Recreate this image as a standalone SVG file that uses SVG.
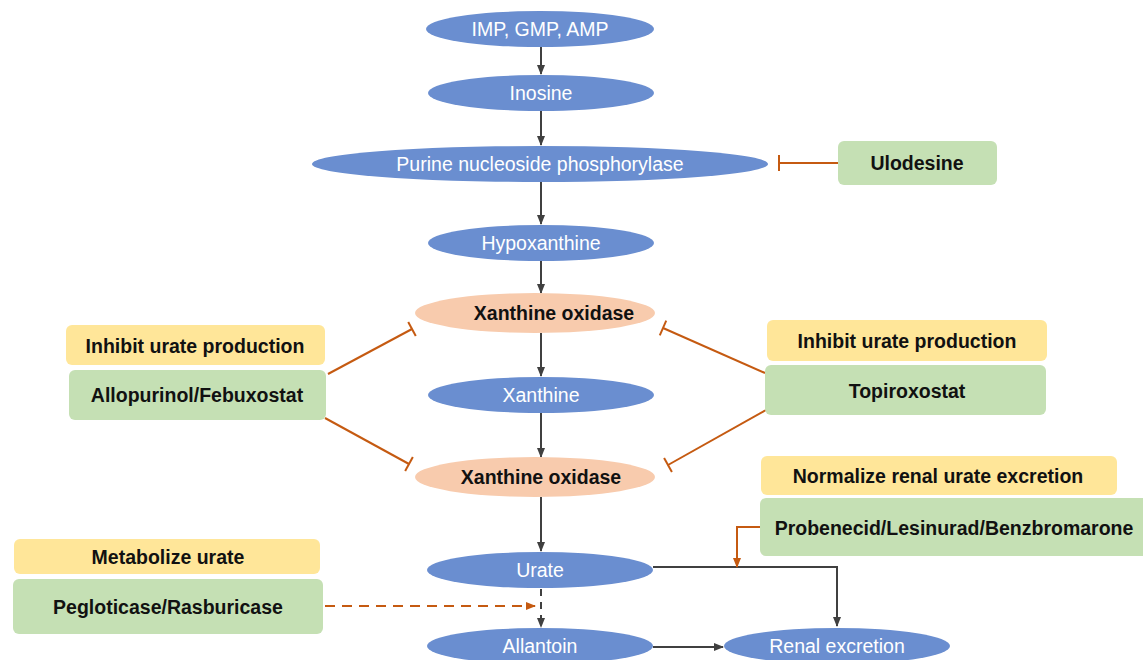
<svg xmlns="http://www.w3.org/2000/svg" width="1143" height="660" viewBox="0 0 1143 660">
<defs>
<style>
.bl{fill:#6A8ED0}
.pe{fill:#F8CBAD}
.ye{fill:#FFE699}
.gr{fill:#C5E0B4}
.wt{font-family:"Liberation Sans",Arial,sans-serif;font-size:19.5px;fill:#FFFFFF;text-anchor:middle;dominant-baseline:central}
.bt{font-family:"Liberation Sans",Arial,sans-serif;font-size:19.5px;font-weight:bold;fill:#111111;text-anchor:middle;dominant-baseline:central}
.ga{stroke:#404040;stroke-width:2;fill:none}
.or{stroke:#C55A11;stroke-width:2;fill:none}
</style>
<marker id="ag" viewBox="0 0 10 10" refX="9" refY="5" markerWidth="10" markerHeight="10" markerUnits="userSpaceOnUse" orient="auto"><path d="M0,1 L10,5 L0,9 Z" fill="#404040"/></marker>
<marker id="ao" viewBox="0 0 10 10" refX="9" refY="5" markerWidth="10" markerHeight="10" markerUnits="userSpaceOnUse" orient="auto"><path d="M0,1 L10,5 L0,9 Z" fill="#C55A11"/></marker>
<marker id="tb" viewBox="-2 -9 4 18" refX="0" refY="0" markerWidth="4" markerHeight="18" markerUnits="userSpaceOnUse" orient="auto"><path d="M0,-8 L0,8" stroke="#C55A11" stroke-width="2"/></marker>
</defs>

<g id="connectors">
<line class="ga" x1="541" y1="47" x2="541" y2="74" marker-end="url(#ag)"/>
<line class="ga" x1="541" y1="111" x2="541" y2="145" marker-end="url(#ag)"/>
<line class="ga" x1="541" y1="182" x2="541" y2="224" marker-end="url(#ag)"/>
<line class="ga" x1="541" y1="261" x2="541" y2="293" marker-end="url(#ag)"/>
<line class="ga" x1="541" y1="333" x2="541" y2="376" marker-end="url(#ag)"/>
<line class="ga" x1="541" y1="413" x2="541" y2="457" marker-end="url(#ag)"/>
<line class="ga" x1="541" y1="497" x2="541" y2="551" marker-end="url(#ag)"/>
<line class="ga" x1="541" y1="589" x2="541" y2="627" stroke-dasharray="7,6" marker-end="url(#ag)"/>
<line class="ga" x1="653" y1="647" x2="723" y2="647" marker-end="url(#ag)"/>
<polyline class="ga" points="653,567 837,567 837,626" marker-end="url(#ag)"/>
<line class="or" x1="838" y1="163" x2="779" y2="163" marker-end="url(#tb)"/>
<line class="or" x1="328" y1="374" x2="412" y2="329" marker-end="url(#tb)"/>
<line class="or" x1="325" y1="418" x2="409" y2="464" marker-end="url(#tb)"/>
<line class="or" x1="765" y1="373" x2="663" y2="328" marker-end="url(#tb)"/>
<line class="or" x1="766" y1="410" x2="668" y2="465" marker-end="url(#tb)"/>
<polyline class="or" points="760,527 737,527 737,567" marker-end="url(#ao)"/>
<line class="or" x1="325" y1="606" x2="535" y2="606" stroke-dasharray="10,7" marker-end="url(#ao)"/>
</g>

<g id="n-imp"><ellipse class="bl" cx="540" cy="29" rx="114" ry="18"/><text class="wt" x="540" y="29">IMP, GMP, AMP</text></g>
<g id="n-inosine"><ellipse class="bl" cx="541" cy="93" rx="113" ry="18"/><text class="wt" x="541" y="93">Inosine</text></g>
<g id="n-pnp"><ellipse class="bl" cx="540" cy="164" rx="228" ry="18"/><text class="wt" x="540" y="164">Purine nucleoside phosphorylase</text></g>
<g id="n-hypox"><ellipse class="bl" cx="541" cy="243" rx="113" ry="18"/><text class="wt" x="541" y="243">Hypoxanthine</text></g>
<g id="n-xo1"><ellipse class="pe" cx="535" cy="313" rx="120" ry="20"/><text class="bt" x="554" y="313">Xanthine oxidase</text></g>
<g id="n-xanthine"><ellipse class="bl" cx="541" cy="395" rx="113" ry="18"/><text class="wt" x="541" y="395">Xanthine</text></g>
<g id="n-xo2"><ellipse class="pe" cx="535" cy="477" rx="120" ry="20"/><text class="bt" x="541" y="477">Xanthine oxidase</text></g>
<g id="n-urate"><ellipse class="bl" cx="540" cy="570" rx="113" ry="18"/><text class="wt" x="540" y="570">Urate</text></g>
<g id="n-allantoin"><ellipse class="bl" cx="540" cy="646" rx="113" ry="18"/><text class="wt" x="540" y="646">Allantoin</text></g>
<g id="n-renal"><ellipse class="bl" cx="837" cy="646" rx="113" ry="18"/><text class="wt" x="837" y="646">Renal excretion</text></g>

<g id="n-ulodesine"><rect class="gr" x="838" y="141" width="159" height="44" rx="6"/><text class="bt" x="917" y="163">Ulodesine</text></g>
<g id="n-left-label"><rect class="ye" x="66" y="325" width="259" height="40" rx="6"/><text class="bt" x="195" y="346">Inhibit urate production</text></g>
<g id="n-allopurinol"><rect class="gr" x="69" y="370" width="257" height="50" rx="6"/><text class="bt" x="197" y="395">Allopurinol/Febuxostat</text></g>
<g id="n-right-label"><rect class="ye" x="767" y="320" width="280" height="41" rx="6"/><text class="bt" x="907" y="341">Inhibit urate production</text></g>
<g id="n-topiroxostat"><rect class="gr" x="765" y="365" width="281" height="50" rx="6"/><text class="bt" x="907" y="391">Topiroxostat</text></g>
<g id="n-renal-label"><rect class="ye" x="761" y="456" width="356" height="39" rx="6"/><text class="bt" x="938" y="476">Normalize renal urate excretion</text></g>
<g id="n-probenecid"><rect class="gr" x="760" y="498" width="400" height="58" rx="6"/><text class="bt" x="954" y="528">Probenecid/Lesinurad/Benzbromarone</text></g>
<g id="n-metab-label"><rect class="ye" x="14" y="539" width="306" height="35" rx="6"/><text class="bt" x="168" y="557">Metabolize urate</text></g>
<g id="n-pegloticase"><rect class="gr" x="13" y="579" width="310" height="55" rx="6"/><text class="bt" x="168" y="607">Pegloticase/Rasburicase</text></g>
</svg>
